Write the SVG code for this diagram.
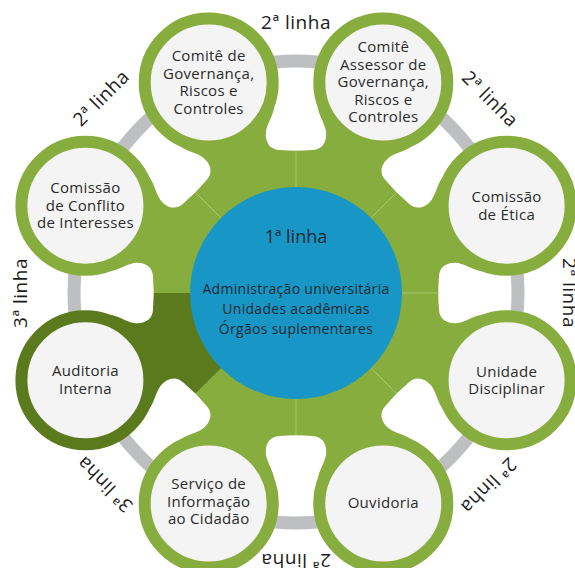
<svg xmlns="http://www.w3.org/2000/svg" width="575" height="568" viewBox="0 0 575 568">
  <defs>
    <style>
      .disk { fill: #87ad3e; }
      .disk-dark { fill: #5a7a1d; }
      .bay { fill: #ffffff; }
      .ring { fill: none; stroke: #bdbfc1; stroke-width: 13; }
      .node circle { fill: #f4f4f4; stroke: #87ad3e; stroke-width: 12; }
      .node.dark circle { stroke: #5a7a1d; }
      .node text { font-family: "Open Sans", "DejaVu Sans", sans-serif; font-size: 15px; letter-spacing: 0.3px; fill: #2b2b2b; text-anchor: middle; }
      .seam { stroke: #b3cf7a; stroke-width: 0.9; opacity: 0.8; }
      .core { fill: #1896c5; }
      .core-title { font-family: "Open Sans", "DejaVu Sans", sans-serif; font-size: 18px; fill: #1d2a33; text-anchor: middle; }
      .core-text { font-family: "Open Sans", "DejaVu Sans", sans-serif; font-size: 14px; letter-spacing: 0.3px; fill: #1d2a33; text-anchor: middle; }
      .tier { font-family: "Open Sans", "DejaVu Sans", sans-serif; font-size: 19px; letter-spacing: 0.5px; fill: #1a1a1a; text-anchor: middle; }
    </style>
    <!-- white bay between two neighbouring nodes, local frame: x outward along the axis -->
    <path id="bay" d="M 235,-24 L 188,-22 C 179,-21.5 172,-28 162,-30 C 151,-31.5 143,-26 143,-16 Q 141.5,0 143,16 C 143,26 151,31.5 162,30 C 172,28 179,21.5 188,22 L 235,24 Z"/>
  </defs>

  <!-- green body joining the core to the nodes -->
  <g id="body">
    <circle class="disk" cx="296" cy="293" r="200"/>
    <path class="disk-dark" d="M296,293 L154.6,434.4 A200,200 0 0 1 96,293 Z"/>
    <use href="#bay" class="bay" transform="translate(296,293) rotate(-90)"/>
    <use href="#bay" class="bay" transform="translate(296,293) rotate(-45)"/>
    <use href="#bay" class="bay" transform="translate(296,293) rotate(0)"/>
    <use href="#bay" class="bay" transform="translate(296,293) rotate(45)"/>
    <use href="#bay" class="bay" transform="translate(296,293) rotate(90)"/>
    <use href="#bay" class="bay" transform="translate(296,293) rotate(135)"/>
    <use href="#bay" class="bay" transform="translate(296,293) rotate(180)"/>
    <use href="#bay" class="bay" transform="translate(296,293) rotate(-135)"/>
  </g>

  <!-- connectors: outer ring and the seams between segments -->
  <g id="connectors">
    <ellipse class="ring" cx="296" cy="292" rx="222" ry="231"/>
    <g transform="translate(296,293)">
      <line class="seam" x1="104" y1="0" x2="143" y2="0" transform="rotate(-90)"/>
      <line class="seam" x1="104" y1="0" x2="143" y2="0" transform="rotate(-45)"/>
      <line class="seam" x1="104" y1="0" x2="143" y2="0" transform="rotate(0)"/>
      <line class="seam" x1="104" y1="0" x2="143" y2="0" transform="rotate(45)"/>
      <line class="seam" x1="104" y1="0" x2="143" y2="0" transform="rotate(90)"/>
      <line class="seam" x1="104" y1="0" x2="143" y2="0" transform="rotate(-135)"/>
    </g>
  </g>

  <g id="core">
    <circle class="core" cx="296" cy="293" r="106"/>
    <text class="core-title" x="296" y="243">1ª linha</text>
    <text class="core-text" x="296" y="294">Administração universitária</text>
    <text class="core-text" x="296" y="314">Unidades acadêmicas</text>
    <text class="core-text" x="296" y="334">Órgãos suplementares</text>
  </g>

  <g id="node-governanca" class="node">
    <circle cx="208.7" cy="82.4" r="64"/>
    <text x="208.7" y="61.3">Comitê de</text>
    <text x="208.7" y="78.8">Governança,</text>
    <text x="208.7" y="96.3">Riscos e</text>
    <text x="208.7" y="113.8">Controles</text>
  </g>

  <g id="node-assessor" class="node">
    <circle cx="383.3" cy="82.4" r="64"/>
    <text x="383.3" y="52.4">Comitê</text>
    <text x="383.3" y="69.9">Assessor de</text>
    <text x="383.3" y="87.4">Governança,</text>
    <text x="383.3" y="104.9">Riscos e</text>
    <text x="383.3" y="122.4">Controles</text>
  </g>

  <g id="node-etica" class="node">
    <circle cx="506.6" cy="205.7" r="64"/>
    <text x="506.6" y="202">Comissão</text>
    <text x="506.6" y="219.5">de Ética</text>
  </g>

  <g id="node-disciplinar" class="node">
    <circle cx="506.6" cy="380.3" r="64"/>
    <text x="506.6" y="376.5">Unidade</text>
    <text x="506.6" y="394">Disciplinar</text>
  </g>

  <g id="node-ouvidoria" class="node">
    <circle cx="383.3" cy="503.6" r="64"/>
    <text x="383.3" y="508">Ouvidoria</text>
  </g>

  <g id="node-sic" class="node">
    <circle cx="208.7" cy="503.6" r="64"/>
    <text x="208.7" y="489">Serviço de</text>
    <text x="208.7" y="506.5">Informação</text>
    <text x="208.7" y="524">ao Cidadão</text>
  </g>

  <g id="node-auditoria" class="node dark">
    <circle cx="85.4" cy="380.3" r="64"/>
    <text x="85.4" y="376">Auditoria</text>
    <text x="85.4" y="393.5">Interna</text>
  </g>

  <g id="node-conflito" class="node">
    <circle cx="85.4" cy="205.7" r="64"/>
    <text x="85.4" y="193.2">Comissão</text>
    <text x="85.4" y="210.7">de Conflito</text>
    <text x="85.4" y="228.2">de Interesses</text>
  </g>

  <!-- tier labels around the ring -->
  <g id="tier-labels">
    <text class="tier" x="296" y="29" transform="rotate(0 296 293)">2ª linha</text>
    <text class="tier" x="296" y="25" transform="rotate(45 296 293)">2ª linha</text>
    <text class="tier" x="296" y="26" transform="rotate(90 296 293)">2ª linha</text>
    <text class="tier" x="296" y="27" transform="rotate(135 296 293)">2ª linha</text>
    <text class="tier" x="296" y="32" transform="rotate(180 296 293)">2ª linha</text>
    <text class="tier" x="296" y="29" transform="rotate(225 296 293)">3ª linha</text>
    <text class="tier" x="296" y="24" transform="rotate(270 296 293)">3ª linha</text>
    <text class="tier" x="296" y="24" transform="rotate(-45 296 293)">2ª linha</text>
  </g>
</svg>
